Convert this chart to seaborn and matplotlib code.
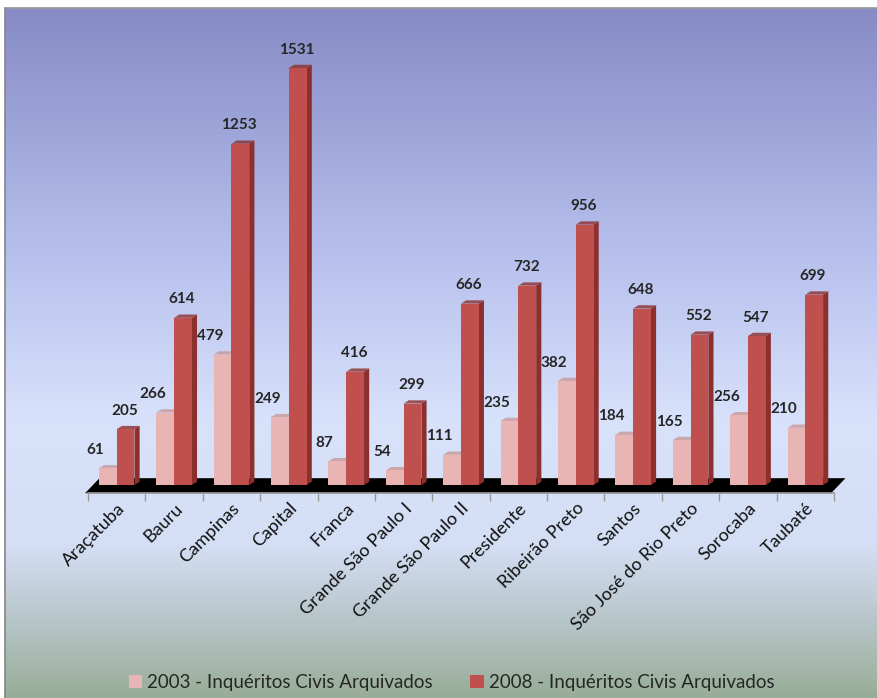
import numpy as np
import pandas as pd
import matplotlib
matplotlib.use("Agg")
import matplotlib.pyplot as plt
import seaborn as sns
from matplotlib.colors import LinearSegmentedColormap
from matplotlib.patches import Polygon

regions = ["Araçatuba", "Bauru", "Campinas", "Capital", "Franca",
           "Grande São Paulo I", "Grande São Paulo II", "Presidente",
           "Ribeirão Preto", "Santos", "São José do Rio Preto", "Sorocaba", "Taubaté"]
arq_2003 = [61, 266, 479, 249, 87, 54, 111, 235, 382, 184, 165, 256, 210]
arq_2008 = [205, 614, 1253, 1531, 416, 299, 666, 732, 956, 648, 552, 547, 699]
series = ["2003 - Inquéritos Civis Arquivados", "2008 - Inquéritos Civis Arquivados"]

df = pd.DataFrame({
    "regiao": regions * 2,
    "valor": arq_2003 + arq_2008,
    "serie": [series[0]] * len(regions) + [series[1]] * len(regions),
})

sns.set_theme(style="white")
plt.rcParams["font.family"] = ["Lato", "DejaVu Sans"]

fig = plt.figure(figsize=(8.77, 6.98), dpi=100)

# gradient background panel
bg = fig.add_axes([5 / 877, 0, 872 / 877, 690 / 698])
cmap = LinearSegmentedColormap.from_list("bg", [
    (0.0, "#868bc5"), (0.35, "#b6bfec"), (0.6, "#d8e2fb"),
    (0.78, "#d4def4"), (0.9, "#b4c3c4"), (1.0, "#98ad98")])
bg.imshow(np.linspace(0, 1, 256).reshape(-1, 1), aspect="auto", cmap=cmap,
          extent=[0, 1, 0, 1], origin="upper")
bg.set_xticks([]); bg.set_yticks([])
for s in bg.spines.values():
    s.set_visible(False)
bg.spines["left"].set_visible(True)
bg.spines["left"].set_color("#888888")
bg.spines["top"].set_visible(True)
bg.spines["top"].set_color("#999999")

ax = fig.add_axes([88 / 877, 213 / 698, 746 / 877, 463 / 698])
ax.set_facecolor("none")
palette = {series[0]: "#e8b5b4", series[1]: "#c0504d"}
side = {series[0]: "#c99897", series[1]: "#8c2f2d"}
sns.barplot(data=df, x="regiao", y="valor", hue="serie", palette=palette,
            width=0.62, saturation=1, ax=ax, legend=True, linewidth=0)

ax.set_ylim(0, 1700)
ax.set_xlim(-0.5, len(regions) - 0.5)

# 3D-ish side/top faces and labels, taken from the bar patches
shift = {series[0]: -0.22, series[1]: -0.02}
for cont, name in zip(ax.containers, series):
    for bar, v in zip(cont, cont.datavalues):
        x0 = bar.get_x(); w = bar.get_width(); h = bar.get_height()
        dx = 0.09; dy = 12
        ax.add_patch(Polygon([(x0 + w, 0), (x0 + w + dx, dy), (x0 + w + dx, h + dy), (x0 + w, h)],
                             closed=True, facecolor=side[name], edgecolor="none", zorder=3))
        ax.add_patch(Polygon([(x0, h), (x0 + dx, h + dy), (x0 + w + dx, h + dy), (x0 + w, h)],
                             closed=True, facecolor=side[name], edgecolor="none", zorder=3, alpha=0.8))
        bar.set_zorder(4)
        ax.text(x0 + w / 2 + shift[name], h + 42, f"{int(v)}", ha="center", va="bottom",
                fontsize=11, fontweight="bold", color="#262626")

# black floor
ax.add_patch(Polygon([(-0.55, -30), (len(regions) - 0.55, -30),
                      (len(regions) - 0.3, 25), (-0.3, 25)],
                     closed=True, facecolor="black", edgecolor="none", zorder=2, clip_on=False))

for s in ["top", "right", "left"]:
    ax.spines[s].set_visible(False)
ax.spines["bottom"].set_position(("data", -30))
ax.spines["bottom"].set_color("#999999")
ax.set_yticks([])
ax.set_xlabel(""); ax.set_ylabel("")
ax.set_xticks(np.arange(len(regions)))
ax.set_xticklabels(regions, rotation=45, ha="right", rotation_mode="anchor",
                   fontsize=13, color="#111111")
ax.tick_params(axis="x", which="major", length=0, pad=5)
ax.set_xticks(np.arange(-0.5, len(regions)), minor=True)
ax.tick_params(axis="x", which="minor", length=6, color="#999999", bottom=True)

handles, labels = ax.get_legend_handles_labels()
ax.legend_.remove()
fig.legend(handles, labels, loc="center", bbox_to_anchor=(0.515, 0.022), ncol=2,
           frameon=False, fontsize=13.5, handlelength=0.7, handleheight=0.7,
           columnspacing=2, handletextpad=0.3)

fig.savefig("out.png", dpi=100)
